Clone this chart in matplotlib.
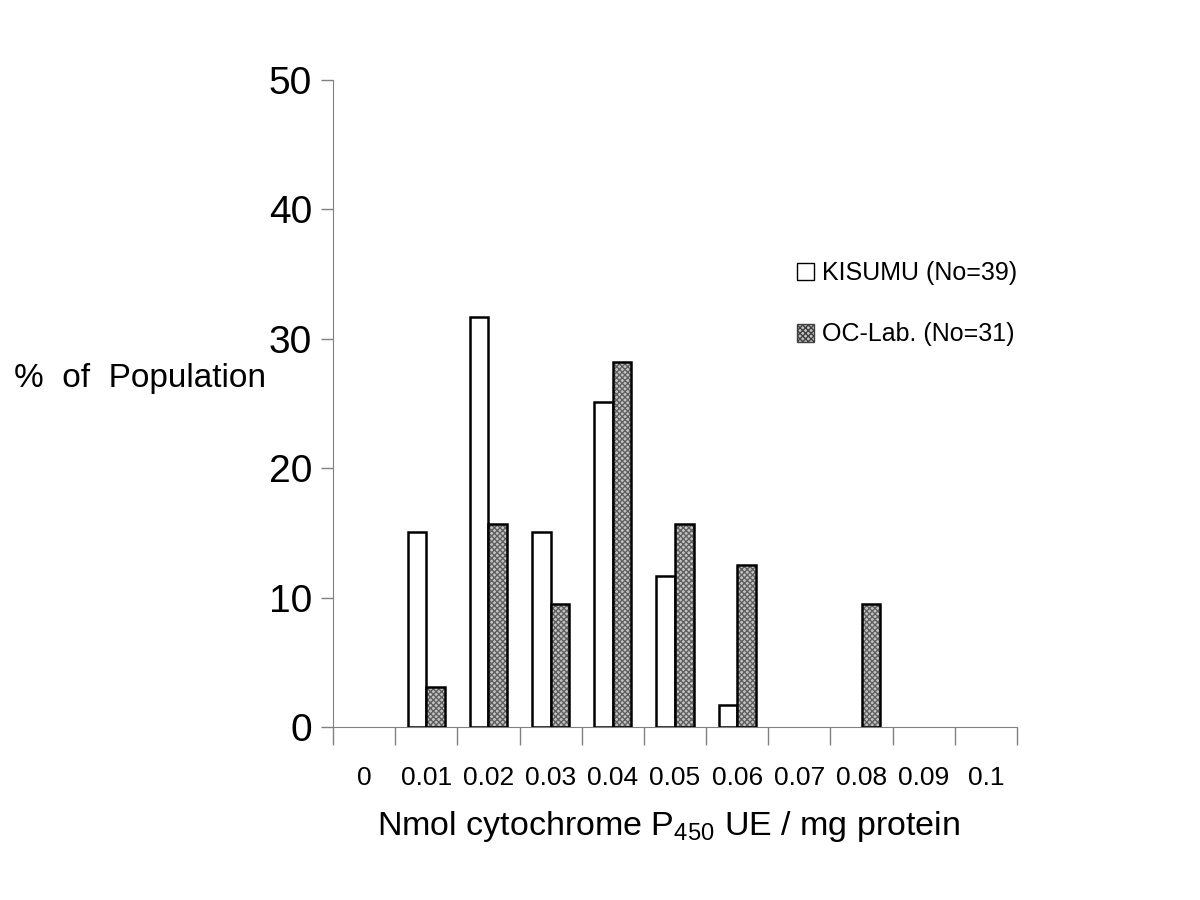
import numpy as np
import matplotlib.pyplot as plt
from matplotlib.patches import Patch

# bins of cytochrome P450 (nmol / mg protein)
bins = ['0', '0.01', '0.02', '0.03', '0.04', '0.05', '0.06', '0.07', '0.08', '0.09', '0.1']
kisumu = [0, 15.1, 31.7, 15.1, 25.1, 11.7, 1.7, 0, 0, 0, 0]
oclab = [0, 3.1, 15.7, 9.5, 28.2, 15.7, 12.5, 0, 9.5, 0, 0]
series_labels = ['KISUMU (No=39)', 'OC-Lab. (No=31)']

font = ['Liberation Sans', 'DejaVu Sans']
plt.rcParams['font.family'] = font
plt.rcParams['mathtext.fontset'] = 'custom'
plt.rcParams['mathtext.rm'] = 'Liberation Sans'

fig = plt.figure(figsize=(12, 9), dpi=100)
ax = fig.add_axes([0.2775, 0.1922, 0.57, 0.719])

x = np.arange(len(bins))
w = 0.3

# only bins with a value get a bar
xk = [i for i, v in enumerate(kisumu) if v > 0]
hk = [v for v in kisumu if v > 0]
xo = [i for i, v in enumerate(oclab) if v > 0]
ho = [v for v in oclab if v > 0]

# white bars
ax.bar(np.array(xk) - w / 2, hk, width=w, facecolor='white', edgecolor='black', linewidth=1.8, zorder=3)

# grey checkered bars: fill with hatch first, then black outline
ax.bar(np.array(xo) + w / 2, ho, width=w, facecolor='#c4c4c4', edgecolor='#606060',
       hatch='xxxxxx', linewidth=0, zorder=3)
ax.bar(np.array(xo) + w / 2, ho, width=w, fill=False, edgecolor='black', linewidth=1.8, zorder=4)

ax.set_xlim(-0.5, len(bins) - 0.5)
ax.set_ylim(0, 50)
ax.set_yticks([0, 10, 20, 30, 40, 50])
ax.tick_params(axis='y', length=9, width=1, color='#808080', pad=6, labelsize=28)

# tick marks at bin edges, labels at bin centres
ax.set_xticks(np.arange(len(bins) + 1) - 0.5)
ax.set_xticklabels([])
ax.tick_params(axis='x', which='major', length=13, width=1, color='#808080')
ax.set_xticks(x, minor=True)
ax.set_xticklabels(bins, minor=True)
ax.tick_params(axis='x', which='minor', length=0, pad=28, labelsize=19)

for s in ['top', 'right']:
    ax.spines[s].set_visible(False)
ax.spines['left'].set_color('#808080')
ax.spines['bottom'].set_color('#808080')

fig.text(0.012, 0.58, '%  of  Population', fontsize=24, va='center', ha='left')
fig.text(0.5575, 0.082, 'Nmol cytochrome P$_{450}$ UE / mg protein', fontsize=24.5,
         ha='center', va='center')

handles = [Patch(facecolor='white', edgecolor='black', linewidth=1),
           Patch(facecolor='#c4c4c4', edgecolor='#404040', hatch='xxxxxx', linewidth=1)]
leg = ax.legend(handles, series_labels, loc='upper left', bbox_to_anchor=(0.645, 0.735),
                bbox_transform=fig.transFigure, frameon=False, fontsize=18,
                handlelength=0.7, handleheight=0.7, handletextpad=0.3, labelspacing=1.5)

fig.savefig('out.png', dpi=100)
